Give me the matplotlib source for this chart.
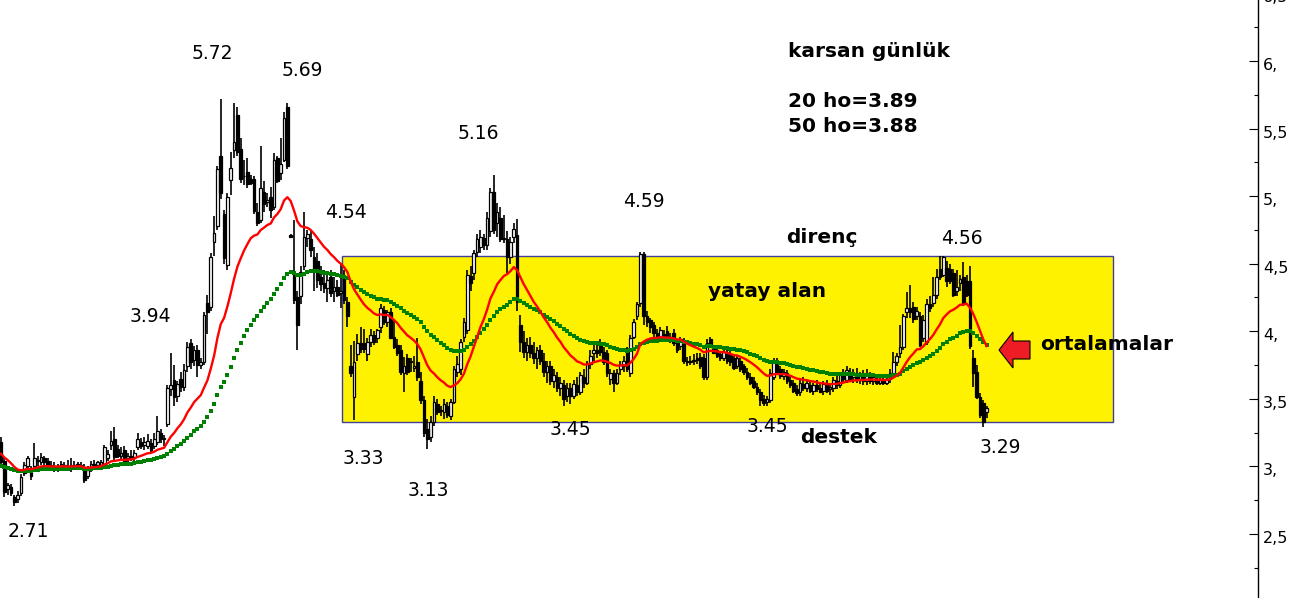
import numpy as np
import matplotlib
matplotlib.use('Agg')
import matplotlib.pyplot as plt
from matplotlib.patches import Rectangle, Polygon
from matplotlib.ticker import MultipleLocator
import matplotlib.transforms as mtransforms

# daily OHLC (karsan)
opens = [
  3.18, 3.04, 2.83, 2.85, 2.77, 2.76, 2.80, 2.95, 3.00, 2.97,
  3.00, 3.04, 3.03, 3.06, 3.04, 3.01, 2.99, 3.00, 2.99, 3.01,
  3.00, 2.99, 3.01, 3.00, 3.01, 2.99, 2.93, 2.98, 3.02, 3.01,
  3.01, 3.00, 3.06, 3.16, 3.20, 3.13, 3.08, 3.12, 3.06, 3.08,
  3.07, 3.14, 3.18, 3.16, 3.15, 3.17, 3.15, 3.18, 3.25, 3.20,
  3.31, 3.57, 3.64, 3.52, 3.65, 3.59, 3.74, 3.91, 3.79, 3.86,
  3.75, 3.77, 4.21, 4.18, 4.66, 4.78, 5.30, 4.87, 4.49, 5.12,
  5.34, 5.60, 5.35, 5.15, 5.18, 5.13, 5.13, 4.88, 4.82, 5.03,
  4.96, 4.99, 4.92, 5.28, 5.17, 5.27, 5.66, 4.71, 4.43, 4.25,
  4.26, 4.48, 4.69, 4.68, 4.55, 4.52, 4.40, 4.36, 4.32, 4.40,
  4.30, 4.33, 4.28, 4.40, 4.22, 3.74, 3.51, 3.83, 3.91, 3.91,
  3.83, 3.92, 3.97, 3.95, 4.03, 4.16, 4.07, 4.14, 3.96, 3.90,
  3.86, 3.69, 3.80, 3.77, 3.73, 3.77, 3.63, 3.49, 3.28, 3.22,
  3.33, 3.46, 3.41, 3.40, 3.45, 3.37, 3.48, 3.70, 3.72, 3.96,
  4.01, 4.41, 4.43, 4.59, 4.62, 4.69, 4.64, 4.74, 5.03, 4.80,
  4.84, 4.68, 4.68, 4.55, 4.70, 4.71, 4.05, 3.92, 3.85, 3.90,
  3.84, 3.80, 3.86, 3.78, 3.70, 3.74, 3.63, 3.66, 3.58, 3.60,
  3.52, 3.58, 3.52, 3.60, 3.55, 3.66, 3.62, 3.76, 3.84, 3.86,
  3.91, 3.85, 3.84, 3.65, 3.69, 3.62, 3.72, 3.74, 3.85, 3.69,
  3.96, 4.11, 4.21, 4.57, 4.11, 4.08, 4.05, 3.99, 3.94, 3.98,
  4.00, 3.96, 3.99, 3.91, 3.89, 3.92, 3.78, 3.77, 3.79, 3.80,
  3.81, 3.80, 3.66, 3.94, 3.88, 3.86, 3.83, 3.80, 3.84, 3.83,
  3.80, 3.74, 3.78, 3.74, 3.70, 3.66, 3.63, 3.59, 3.55, 3.50,
  3.48, 3.49, 3.66, 3.77, 3.72, 3.67, 3.69, 3.64, 3.62, 3.57,
  3.55, 3.61, 3.58, 3.60, 3.56, 3.60, 3.58, 3.56, 3.60, 3.57,
  3.58, 3.63, 3.60, 3.67, 3.64, 3.70, 3.66, 3.68, 3.64, 3.66,
  3.63, 3.67, 3.63, 3.65, 3.62, 3.64, 3.62, 3.65, 3.69, 3.77,
  3.84, 3.88, 4.14, 4.17, 4.18, 4.11, 4.11, 3.95, 3.92, 4.20,
  4.21, 4.27, 4.46, 4.42, 4.47, 4.46, 4.43, 4.30, 4.36, 4.40,
  4.37, 4.37, 3.80, 3.70, 3.51, 3.47, 3.40]
highs = [
  3.22, 3.06, 2.88, 2.87, 2.79, 2.82, 2.94, 3.03, 3.08, 3.00,
  3.17, 3.08, 3.10, 3.08, 3.06, 3.04, 3.03, 3.02, 3.04, 3.03,
  3.05, 3.06, 3.04, 3.03, 3.03, 3.02, 3.00, 3.04, 3.05, 3.04,
  3.05, 3.16, 3.12, 3.26, 3.29, 3.16, 3.14, 3.15, 3.10, 3.12,
  3.12, 3.25, 3.21, 3.22, 3.24, 3.20, 3.25, 3.37, 3.28, 3.23,
  3.60, 3.84, 3.75, 3.63, 3.70, 3.76, 3.92, 3.94, 3.89, 3.90,
  3.80, 4.14, 4.27, 4.58, 4.85, 5.22, 5.72, 4.90, 5.02, 5.33,
  5.69, 5.66, 5.43, 5.27, 5.28, 5.16, 5.15, 4.95, 5.37, 5.11,
  5.02, 5.07, 5.32, 5.30, 5.43, 5.62, 5.69, 4.72, 4.82, 4.30,
  4.48, 4.88, 4.75, 4.75, 4.62, 4.58, 4.48, 4.45, 4.42, 4.45,
  4.40, 4.38, 4.50, 4.45, 4.25, 3.90, 3.93, 3.98, 4.03, 4.02,
  3.95, 4.02, 4.00, 4.02, 4.20, 4.19, 4.16, 4.17, 4.08, 3.94,
  3.90, 3.81, 3.83, 3.80, 3.82, 3.95, 3.70, 3.52, 3.35, 3.37,
  3.52, 3.50, 3.45, 3.50, 3.48, 3.50, 3.74, 3.82, 3.94, 4.10,
  4.45, 4.48, 4.60, 4.72, 4.75, 4.72, 4.88, 5.06, 5.16, 4.95,
  4.92, 4.86, 4.74, 4.70, 4.80, 4.83, 4.12, 4.00, 3.95, 3.96,
  3.92, 3.88, 3.90, 3.84, 3.78, 3.78, 3.72, 3.70, 3.66, 3.64,
  3.62, 3.62, 3.64, 3.66, 3.70, 3.72, 3.78, 3.86, 3.90, 3.92,
  3.94, 3.88, 3.86, 3.72, 3.71, 3.72, 3.78, 3.82, 3.88, 3.97,
  4.09, 4.22, 4.59, 4.59, 4.15, 4.10, 4.07, 4.02, 4.03, 4.01,
  4.04, 3.99, 4.02, 3.94, 3.96, 3.95, 3.81, 3.82, 3.83, 3.84,
  3.84, 3.83, 3.94, 3.96, 3.90, 3.88, 3.85, 3.87, 3.87, 3.86,
  3.83, 3.82, 3.80, 3.76, 3.73, 3.69, 3.66, 3.62, 3.57, 3.53,
  3.52, 3.72, 3.80, 3.80, 3.74, 3.72, 3.71, 3.67, 3.64, 3.60,
  3.64, 3.66, 3.64, 3.63, 3.62, 3.64, 3.62, 3.63, 3.64, 3.62,
  3.66, 3.68, 3.70, 3.72, 3.74, 3.73, 3.72, 3.73, 3.70, 3.71,
  3.72, 3.70, 3.68, 3.68, 3.67, 3.66, 3.68, 3.72, 3.85, 3.84,
  4.05, 4.13, 4.29, 4.34, 4.22, 4.18, 4.14, 4.12, 4.24, 4.26,
  4.40, 4.46, 4.56, 4.56, 4.52, 4.50, 4.46, 4.45, 4.42, 4.51,
  4.42, 4.48, 3.86, 3.75, 3.54, 3.49, 3.45]
lows = [
  3.00, 2.77, 2.79, 2.78, 2.71, 2.73, 2.78, 2.93, 2.97, 2.90,
  2.98, 3.00, 3.01, 3.00, 2.98, 2.97, 2.96, 2.96, 2.97, 2.98,
  2.97, 2.96, 2.97, 2.97, 2.98, 2.88, 2.91, 2.96, 2.99, 2.98,
  2.99, 2.99, 3.04, 3.12, 3.05, 3.06, 3.05, 3.02, 3.02, 3.04,
  3.04, 3.12, 3.13, 3.12, 3.13, 3.10, 3.13, 3.16, 3.17, 3.15,
  3.29, 3.52, 3.45, 3.48, 3.55, 3.56, 3.70, 3.72, 3.74, 3.66,
  3.72, 3.75, 3.98, 4.15, 4.56, 4.75, 4.98, 4.50, 4.45, 5.01,
  5.28, 5.30, 5.10, 5.08, 5.06, 5.08, 4.87, 4.78, 4.80, 4.88,
  4.92, 4.84, 4.90, 5.10, 5.12, 5.25, 5.20, 4.69, 4.20, 3.86,
  4.20, 4.45, 4.62, 4.55, 4.30, 4.32, 4.30, 4.28, 4.22, 4.25,
  4.22, 4.25, 4.17, 4.20, 4.03, 3.66, 3.34, 3.78, 3.84, 3.84,
  3.78, 3.88, 3.90, 3.91, 3.99, 4.05, 4.03, 3.94, 3.87, 3.82,
  3.68, 3.55, 3.68, 3.70, 3.70, 3.63, 3.46, 3.22, 3.13, 3.18,
  3.30, 3.38, 3.37, 3.35, 3.36, 3.34, 3.46, 3.66, 3.68, 3.92,
  3.98, 4.30, 4.38, 4.55, 4.58, 4.60, 4.60, 4.70, 4.72, 4.70,
  4.66, 4.65, 4.43, 4.50, 4.65, 4.15, 3.85, 3.80, 3.78, 3.80,
  3.76, 3.72, 3.75, 3.66, 3.62, 3.60, 3.58, 3.55, 3.52, 3.45,
  3.48, 3.46, 3.50, 3.52, 3.53, 3.58, 3.60, 3.72, 3.78, 3.80,
  3.82, 3.75, 3.66, 3.60, 3.55, 3.60, 3.68, 3.70, 3.70, 3.66,
  3.94, 4.08, 4.18, 4.05, 4.03, 3.99, 3.96, 3.93, 3.92, 3.92,
  3.92, 3.91, 3.89, 3.84, 3.86, 3.76, 3.74, 3.75, 3.75, 3.76,
  3.72, 3.64, 3.64, 3.88, 3.83, 3.80, 3.78, 3.78, 3.76, 3.74,
  3.71, 3.72, 3.70, 3.68, 3.64, 3.60, 3.57, 3.53, 3.45, 3.45,
  3.45, 3.47, 3.64, 3.68, 3.65, 3.64, 3.61, 3.58, 3.54, 3.52,
  3.52, 3.56, 3.55, 3.54, 3.53, 3.55, 3.54, 3.53, 3.54, 3.53,
  3.55, 3.57, 3.58, 3.62, 3.62, 3.63, 3.62, 3.62, 3.61, 3.60,
  3.60, 3.61, 3.60, 3.60, 3.60, 3.60, 3.60, 3.62, 3.66, 3.74,
  3.80, 3.86, 4.10, 4.10, 4.06, 4.08, 3.88, 3.92, 3.90, 4.14,
  4.18, 4.24, 4.38, 4.40, 4.33, 4.35, 4.25, 4.26, 4.30, 4.19,
  4.25, 3.87, 3.59, 3.50, 3.36, 3.29, 3.36]
closes = [
  3.03, 2.81, 2.86, 2.80, 2.74, 2.79, 2.92, 3.01, 3.06, 2.93,
  3.06, 3.05, 3.07, 3.03, 2.99, 2.99, 3.00, 2.98, 3.02, 3.00,
  2.99, 3.01, 3.00, 3.02, 2.99, 2.90, 2.97, 3.02, 3.01, 3.03,
  3.03, 3.14, 3.09, 3.19, 3.07, 3.08, 3.10, 3.03, 3.08, 3.06,
  3.10, 3.20, 3.15, 3.18, 3.19, 3.12, 3.20, 3.26, 3.20, 3.21,
  3.58, 3.60, 3.51, 3.61, 3.59, 3.71, 3.88, 3.77, 3.86, 3.75,
  3.77, 4.12, 4.14, 4.55, 4.73, 5.20, 5.02, 4.54, 4.99, 5.21,
  5.40, 5.33, 5.13, 5.15, 5.09, 5.10, 4.89, 4.80, 5.06, 4.94,
  4.97, 4.90, 5.27, 5.11, 5.24, 5.58, 5.22, 4.70, 4.23, 4.05,
  4.44, 4.70, 4.72, 4.60, 4.46, 4.38, 4.35, 4.32, 4.38, 4.28,
  4.33, 4.27, 4.30, 4.23, 4.11, 3.69, 3.77, 3.91, 3.87, 3.87,
  3.92, 3.97, 3.92, 4.01, 4.17, 4.07, 4.14, 3.95, 3.88, 3.84,
  3.70, 3.74, 3.70, 3.78, 3.74, 3.66, 3.49, 3.25, 3.20, 3.33,
  3.48, 3.40, 3.42, 3.46, 3.38, 3.48, 3.72, 3.76, 3.92, 4.07,
  4.42, 4.36, 4.58, 4.68, 4.70, 4.64, 4.84, 5.03, 4.75, 4.88,
  4.68, 4.69, 4.55, 4.66, 4.76, 4.22, 3.92, 3.85, 3.90, 3.84,
  3.80, 3.86, 3.78, 3.70, 3.74, 3.63, 3.68, 3.58, 3.62, 3.50,
  3.58, 3.52, 3.61, 3.55, 3.68, 3.62, 3.76, 3.82, 3.86, 3.84,
  3.85, 3.77, 3.69, 3.69, 3.62, 3.69, 3.75, 3.78, 3.72, 3.95,
  4.07, 4.20, 4.57, 4.11, 4.07, 4.03, 3.99, 3.95, 4.01, 3.94,
  3.94, 3.94, 3.91, 3.86, 3.94, 3.78, 3.77, 3.78, 3.78, 3.79,
  3.74, 3.66, 3.91, 3.90, 3.84, 3.82, 3.80, 3.85, 3.78, 3.77,
  3.73, 3.80, 3.72, 3.70, 3.66, 3.62, 3.59, 3.55, 3.49, 3.47,
  3.50, 3.69, 3.77, 3.70, 3.67, 3.70, 3.63, 3.60, 3.56, 3.54,
  3.62, 3.58, 3.62, 3.56, 3.60, 3.57, 3.55, 3.61, 3.56, 3.59,
  3.64, 3.60, 3.68, 3.65, 3.71, 3.65, 3.69, 3.64, 3.67, 3.63,
  3.68, 3.63, 3.66, 3.62, 3.64, 3.62, 3.65, 3.69, 3.77, 3.82,
  3.88, 4.11, 4.17, 4.14, 4.09, 4.15, 3.90, 4.08, 4.20, 4.17,
  4.27, 4.40, 4.40, 4.55, 4.37, 4.37, 4.27, 4.33, 4.39, 4.21,
  4.27, 3.89, 3.69, 3.51, 3.38, 3.33, 3.43]

# moving-average levels just before the first visible bar
ema20_start = 3.10
ema50_start = 3.00

# horizontal range (support / resistance)
box_low, box_high = 3.33, 4.56
box_first, box_last = 102.4, 333.9

# price labels: text, x px, baseline y px
price_labels = [("5.72", 212, 59), ("5.69", 302, 76), ("4.54", 346, 218),
                ("3.94", 150, 322), ("5.16", 478, 139), ("4.59", 644, 207),
                ("4.56", 962, 244), ("3.33", 363, 464), ("3.13", 428, 496),
                ("3.45", 570, 435), ("3.45", 767, 432), ("3.29", 1000, 453),
                ("2.71", 28, 537)]
notes = [("karsan günlük", 788, 57), ("20 ho=3.89", 788, 107),
         ("50 ho=3.88", 788, 132), ("direnç", 786, 243),
         ("yatay alan", 708, 297), ("destek", 800, 443),
         ("ortalamalar", 1040, 350)]

W, H = 1308, 598


def ema(values, span, start):
    a = 2.0 / (span + 1)
    e = start
    out = []
    for v in values:
        e = e + a * (v - e)
        out.append(e)
    return np.array(out)


def axis_label(v):
    if abs(v - round(v)) < 1e-9:
        return f'{int(round(v))},'
    return f'{v:.1f}'.replace('.', ',')


o = np.array(opens)
h = np.array(highs)
l = np.array(lows)
c = np.array(closes)
x = np.arange(len(c))
up = c >= o

fig = plt.figure(figsize=(W / 100, H / 100), dpi=100)
ax = fig.add_axes([0, 0, 1258 / W, 1])
ax.set_xlim(-0.3, 377.5)
ax.set_ylim(2.026, 6.4515)

ax.add_patch(Rectangle((box_first, box_low), box_last - box_first, box_high - box_low,
                       facecolor='#fff200', edgecolor='#40409a', linewidth=1.0, zorder=1))

ax.vlines(x, l, h, color='black', linewidth=1.2, zorder=2)
ax.bar(x[up], (c - o)[up], bottom=o[up], width=0.8, facecolor='white',
       edgecolor='black', linewidth=0.9, zorder=3)
ax.bar(x[~up], (c - o)[~up], bottom=o[~up], width=0.8, facecolor='black',
       edgecolor='black', linewidth=0.9, zorder=3)

ax.plot(x, ema(c, 20, ema20_start), color='#ff0000', linewidth=1.7, zorder=5)
ax.plot(x, ema(c, 50, ema50_start), linestyle='none', marker='s', markersize=3.5,
        markeredgewidth=0, color='#008000', zorder=4)

for s in ['left', 'top', 'bottom']:
    ax.spines[s].set_visible(False)
ax.spines['right'].set_linewidth(1.0)
ax.set_xticks([])
ax.yaxis.tick_right()
ax.yaxis.set_major_locator(MultipleLocator(0.5))
ax.yaxis.set_minor_locator(MultipleLocator(0.25))
ax.tick_params(axis='y', which='major', direction='in', length=6.5, width=0.8,
               labelright=False)
ax.tick_params(axis='y', which='minor', direction='in', length=3, width=0.8)

lab_trans = mtransforms.blended_transform_factory(ax.transAxes, ax.transData) + \
    mtransforms.ScaledTranslation(5 / 100, -4.5 / 100, fig.dpi_scale_trans)
for v in np.arange(2.5, 7.0, 0.5):
    ax.text(1.0, v, axis_label(v), transform=lab_trans, ha='left', va='center',
            fontsize=11.5, clip_on=False)

for s, px, py in price_labels:
    fig.text(px / W, 1 - py / H, s, ha='center', va='baseline', fontsize=13.5)
for s, px, py in notes:
    fig.text(px / W, 1 - py / H, s, ha='left', va='baseline', fontsize=14.5,
             fontweight='bold')

# red arrow pointing at the averages
tip_x, tip_y = 999, 350
head_len, head_half, tail_len, tail_half = 14, 18, 17, 9
pts = [(tip_x, tip_y), (tip_x + head_len, tip_y - head_half),
       (tip_x + head_len, tip_y - tail_half), (tip_x + head_len + tail_len, tip_y - tail_half),
       (tip_x + head_len + tail_len, tip_y + tail_half), (tip_x + head_len, tip_y + tail_half),
       (tip_x + head_len, tip_y + head_half)]
fig.patches.append(Polygon([(px / W, 1 - py / H) for px, py in pts], closed=True,
                           transform=fig.transFigure, facecolor='#ee1c25',
                           edgecolor='black', linewidth=0.8, zorder=6))

fig.savefig('out.png', dpi=100)
